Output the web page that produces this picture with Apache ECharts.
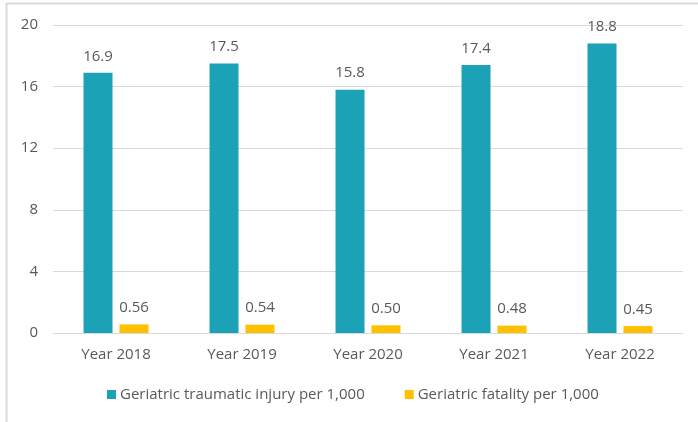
<!DOCTYPE html>
<html>
<head>
<meta charset="utf-8">
<script src="https://cdn.jsdelivr.net/npm/echarts@6/dist/echarts.min.js"></script>
<style>
html, body { margin: 0; padding: 0; background: #fff; }
#chart { width: 698px; height: 422px; }
</style>
</head>
<body>
<div id="chart"></div>
<script>
const years = ['Year 2018', 'Year 2019', 'Year 2020', 'Year 2021', 'Year 2022'];
const injuryRate = [16.9, 17.5, 15.8, 17.4, 18.8];
const fatalityRate = [0.56, 0.54, 0.50, 0.48, 0.45];
const injuryLabels = ['16.9', '17.5', '15.8', '17.4', '18.8'];
const fatalityLabels = ['0.56', '0.54', '0.50', '0.48', '0.45'];
const seriesNames = ['Geriatric traumatic injury per 1,000', 'Geriatric fatality per 1,000'];

const font = 'Open Sans';
const textColor = '#595959';
const fontSize = 15;

const chart = echarts.init(document.getElementById('chart'));
chart.setOption({
  animation: false,
  graphic: [{
    type: 'rect',
    shape: { x: 6.5, y: 3.5, width: 720, height: 440 },
    style: { fill: 'none', stroke: '#d9d9d9', lineWidth: 2 },
    silent: true
  }],
  grid: { left: 53, right: 15, top: 25, bottom: 89 },
  legend: {
    left: 102, top: 382,
    itemWidth: 9, itemHeight: 9, itemGap: 40,
    icon: 'rect',
    textStyle: { fontFamily: font, fontSize: fontSize, color: textColor, padding: [0, 0, 0, -1] },
    data: seriesNames
  },
  xAxis: {
    type: 'category',
    data: years,
    axisLine: { show: true, lineStyle: { color: '#d9d9d9', width: 1 } },
    axisTick: { show: false },
    axisLabel: { fontFamily: font, fontSize: fontSize, color: textColor, margin: 14 }
  },
  yAxis: {
    type: 'value',
    min: 0, max: 20, interval: 4,
    axisLine: { show: false },
    axisTick: { show: false },
    splitLine: { lineStyle: { color: '#d9d9d9', width: 1 } },
    axisLabel: { fontFamily: font, fontSize: fontSize, color: textColor, margin: 15 }
  },
  series: [
    {
      name: seriesNames[0],
      type: 'bar',
      data: injuryRate,
      barWidth: 29,
      barGap: '24%',
      itemStyle: { color: '#1ba2b7' },
      label: {
        show: true, position: 'top', distance: 9,
        fontFamily: font, fontSize: fontSize, color: textColor,
        formatter: p => injuryLabels[p.dataIndex]
      }
    },
    {
      name: seriesNames[1],
      type: 'bar',
      data: fatalityRate,
      barWidth: 29,
      itemStyle: { color: '#ffc000' },
      label: {
        show: true, position: 'top', distance: 9,
        fontFamily: font, fontSize: fontSize, color: textColor,
        formatter: p => fatalityLabels[p.dataIndex]
      }
    }
  ]
});
</script>
</body>
</html>
